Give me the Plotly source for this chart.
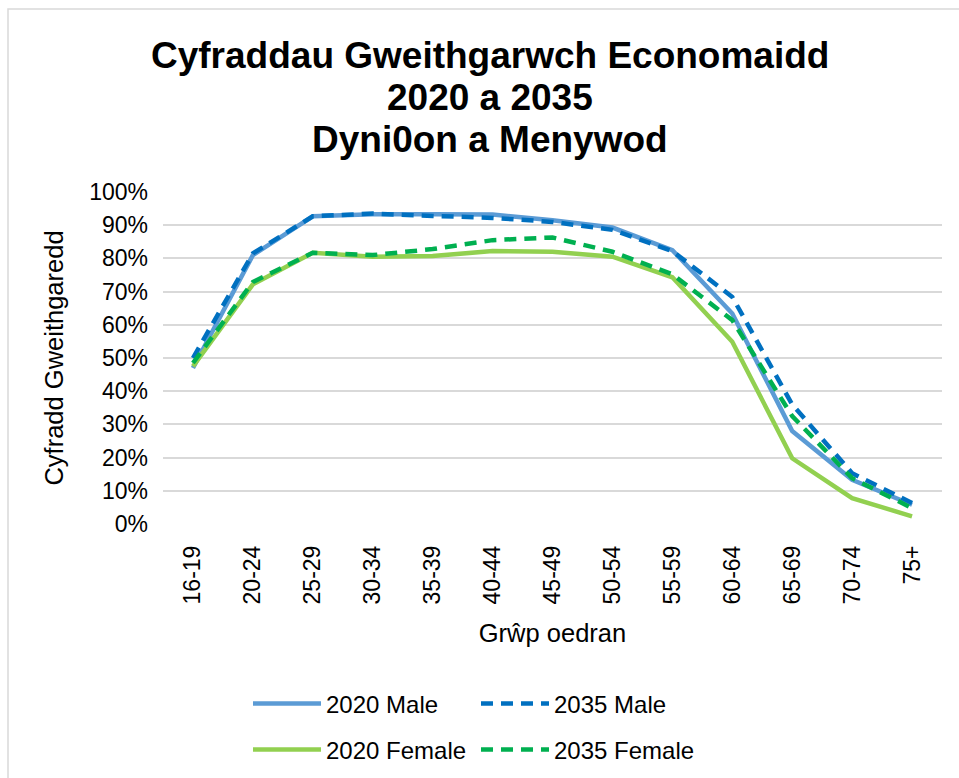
import plotly.graph_objects as go

# Age groups and economic activity rates (fraction of population)
age_groups = ["16-19", "20-24", "25-29", "30-34", "35-39", "40-44", "45-49",
              "50-54", "55-59", "60-64", "65-69", "70-74", "75+"]
male_2020 = [0.470, 0.810, 0.927, 0.933, 0.933, 0.932, 0.915, 0.893, 0.825, 0.634, 0.280, 0.133, 0.058]
male_2035 = [0.500, 0.815, 0.927, 0.935, 0.928, 0.922, 0.910, 0.886, 0.822, 0.684, 0.360, 0.153, 0.063]
female_2020 = [0.475, 0.722, 0.817, 0.805, 0.807, 0.822, 0.820, 0.805, 0.743, 0.549, 0.198, 0.078, 0.023]
female_2035 = [0.485, 0.729, 0.817, 0.810, 0.828, 0.855, 0.863, 0.820, 0.752, 0.614, 0.325, 0.138, 0.048]

title_lines = ["Cyfraddau Gweithgarwch Economaidd", "2020 a 2035", "Dyni0on a Menywod"]
y_title = "Cyfradd Gweithgaredd"
x_title = "Grŵp oedran"

FONT = "Liberation Sans, Arial, sans-serif"
W, H = 959, 778
ML, MR, MT, MB = 163, 17, 192, 254
PW = W - ML - MR
PH = H - MT - MB


def px_x(px):
    return (px - ML) / PW


def px_y(py):
    return (H - MB - py) / PH


fig = go.Figure()

series = [
    ("2020 Male", male_2020, "#5b9bd5", "solid", "legend"),
    ("2035 Male", male_2035, "#0070c0", "12px,8px", "legend"),
    ("2020 Female", female_2020, "#92d050", "solid", "legend2"),
    ("2035 Female", female_2035, "#00b050", "12px,8px", "legend2"),
]
# draw solids first so dashed lines sit on top
order = [0, 2, 1, 3]
for i in order:
    name, vals, col, dash, leg = series[i]
    fig.add_trace(go.Scatter(
        x=age_groups, y=vals, name=name, mode="lines",
        line=dict(color=col, width=4.5, dash=dash),
        legend=leg, legendrank=i,
    ))

annotations = []
for k, line in enumerate(title_lines):
    annotations.append(dict(
        text=f"<b>{line}</b>", x=px_x(490), y=px_y(55 + 42 * k),
        xref="paper", yref="paper", xanchor="center", yanchor="middle",
        showarrow=False, font=dict(family=FONT, size=37, color="#000000"),
    ))

legend_common = dict(orientation="h", xanchor="left", yanchor="middle",
                     font=dict(size=24), itemwidth=68, entrywidth=145,
                     entrywidthmode="pixels", bgcolor="rgba(0,0,0,0)",
                     traceorder="normal")

fig.update_layout(
    width=W, height=H,
    margin=dict(l=ML, r=MR, t=MT, b=MB, autoexpand=False),
    paper_bgcolor="white", plot_bgcolor="white",
    font=dict(family=FONT, color="#000000"),
    annotations=annotations,
    shapes=[dict(type="rect", xref="paper", yref="paper",
                 x0=px_x(8), x1=px_x(965), y0=px_y(9), y1=px_y(785),
                 line=dict(color="#d9d9d9", width=1.5), layer="below")],
    xaxis=dict(
        type="category", range=[-0.5, len(age_groups) - 0.5],
        tickangle=-90, tickfont=dict(size=23), ticklabelstandoff=16,
        showgrid=False, showline=False, zeroline=False, ticks="",
        title=dict(text=x_title, font=dict(size=25.5), standoff=20),
    ),
    yaxis=dict(
        range=[0, 1], tickvals=[i / 10 for i in range(11)],
        tickformat=".0%", tickfont=dict(size=23), ticklabelstandoff=14,
        showgrid=True, gridcolor="#d9d9d9", gridwidth=1.5,
        zeroline=False, showline=False, ticks="",
        title=dict(text=y_title, font=dict(size=25.5), standoff=18),
    ),
    legend=dict(x=px_x(248), y=px_y(704), **legend_common),
    legend2=dict(x=px_x(248), y=px_y(750), **legend_common),
    showlegend=True,
)

fig.write_html("out.html")
